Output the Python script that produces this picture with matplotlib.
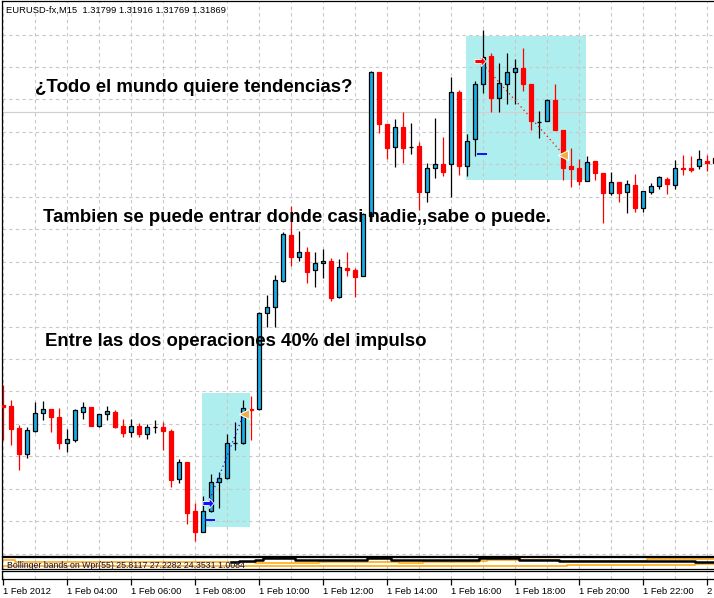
## EURUSD M15 chart with two marked trades
import numpy as np
import matplotlib
matplotlib.use('Agg')
import matplotlib.pyplot as plt
from matplotlib.patches import Rectangle

W, H, DPI = 714, 598, 100

# candles (price), one per 15 min bar
opens = [1.31108, 1.31105, 1.31037, 1.30958, 1.31029, 1.31084, 1.31096, 1.31071, 1.30990, 1.31000,
         1.31088, 1.31101, 1.31044, 1.31080, 1.31087, 1.31043, 1.31024, 1.31043, 1.31018, 1.31040,
         1.31041, 1.31028, 1.30879, 1.30933, 1.30782, 1.30718, 1.30782, 1.30871, 1.30882, 1.30992,
         1.30990, 1.31095, 1.31095, 1.31393, 1.31411, 1.31491, 1.31632, 1.31563, 1.31579, 1.31524,
         1.31545, 1.31552, 1.31440, 1.31530, 1.31524, 1.31506, 1.31691, 1.32134, 1.31973, 1.31904,
         1.31964, 1.31904, 1.31906, 1.31766, 1.31838, 1.31850, 1.31850, 1.32072, 1.31846, 1.31927,
         1.32097, 1.32185, 1.32055, 1.32097, 1.32134, 1.32146, 1.32098, 1.31981, 1.31984, 1.32048,
         1.31956, 1.31845, 1.31838, 1.31800, 1.31860, 1.31824, 1.31761, 1.31796, 1.31764, 1.31786,
         1.31714, 1.31766, 1.31783, 1.31804, 1.31786, 1.31839, 1.31839, 1.31845, 1.31860, 1.31853]
highs = [1.31170, 1.31124, 1.31047, 1.31041, 1.31117, 1.31121, 1.31096, 1.31098, 1.31033, 1.31095,
         1.31117, 1.31102, 1.31081, 1.31105, 1.31093, 1.31064, 1.31064, 1.31052, 1.31049, 1.31062,
         1.31057, 1.31033, 1.30942, 1.30933, 1.30805, 1.30828, 1.30895, 1.30903, 1.31019, 1.31055,
         1.31124, 1.31136, 1.31395, 1.31447, 1.31509, 1.31642, 1.31722, 1.31645, 1.31594, 1.31581,
         1.31589, 1.31560, 1.31557, 1.31579, 1.31530, 1.31700, 1.32137, 1.32136, 1.31973, 1.31990,
         1.32010, 1.31976, 1.31920, 1.31853, 1.31992, 1.31935, 1.32120, 1.32079, 1.31943, 1.32107,
         1.32264, 1.32192, 1.32163, 1.32194, 1.32174, 1.32209, 1.32098, 1.32014, 1.32050, 1.32097,
         1.31956, 1.31899, 1.31865, 1.31876, 1.31860, 1.31824, 1.31827, 1.31796, 1.31802, 1.31820,
         1.31768, 1.31792, 1.31814, 1.31810, 1.31863, 1.31879, 1.31876, 1.31894, 1.31879, 1.31880]
lows = [1.31000, 1.30985, 1.30908, 1.30946, 1.31026, 1.31062, 1.31026, 1.30973, 1.30964, 1.30995,
        1.31064, 1.31043, 1.31040, 1.31062, 1.31038, 1.31010, 1.31010, 1.31010, 1.31004, 1.31023,
        1.30970, 1.30854, 1.30869, 1.30741, 1.30690, 1.30716, 1.30779, 1.30792, 1.30879, 1.30970,
        1.30988, 1.31000, 1.31092, 1.31350, 1.31350, 1.31488, 1.31538, 1.31552, 1.31485, 1.31473,
        1.31500, 1.31430, 1.31438, 1.31507, 1.31440, 1.31506, 1.31688, 1.31946, 1.31865, 1.31843,
        1.31855, 1.31881, 1.31709, 1.31735, 1.31807, 1.31814, 1.31750, 1.31817, 1.31814, 1.31876,
        1.32071, 1.32012, 1.32012, 1.32035, 1.32035, 1.32077, 1.31956, 1.31930, 1.31983, 1.31956,
        1.31802, 1.31781, 1.31786, 1.31799, 1.31802, 1.31670, 1.31755, 1.31735, 1.31701, 1.31704,
        1.31704, 1.31758, 1.31773, 1.31758, 1.31773, 1.31817, 1.31827, 1.31834, 1.31830, 1.31845]
closes = [1.31102, 1.31034, 1.30957, 1.31030, 1.31083, 1.31096, 1.31072, 1.30990, 1.31002, 1.31092,
          1.31101, 1.31044, 1.31080, 1.31089, 1.31041, 1.31023, 1.31043, 1.31018, 1.31041, 1.31040,
          1.31029, 1.30877, 1.30933, 1.30776, 1.30718, 1.30782, 1.30870, 1.30883, 1.30990, 1.30992,
          1.31098, 1.31093, 1.31393, 1.31411, 1.31493, 1.31635, 1.31563, 1.31581, 1.31519, 1.31545,
          1.31552, 1.31439, 1.31533, 1.31524, 1.31504, 1.31697, 1.32135, 1.31973, 1.31901, 1.31964,
          1.31901, 1.31904, 1.31766, 1.31838, 1.31850, 1.31827, 1.32072, 1.31846, 1.31923, 1.32097,
          1.32180, 1.32055, 1.32102, 1.32134, 1.32146, 1.32097, 1.31984, 1.31981, 1.32048, 1.31956,
          1.31840, 1.31837, 1.31800, 1.31858, 1.31822, 1.31761, 1.31795, 1.31763, 1.31789, 1.31716,
          1.31768, 1.31783, 1.31810, 1.31788, 1.31838, 1.31836, 1.31833, 1.31865, 1.31853, 1.31869]

tick_labels = ['1 Feb 2012', '1 Feb 04:00', '1 Feb 06:00', '1 Feb 08:00', '1 Feb 10:00', '1 Feb 12:00',
               '1 Feb 14:00', '1 Feb 16:00', '1 Feb 18:00', '1 Feb 20:00', '1 Feb 22:00', '2 Feb 2012']

# boxes drawn on the chart: (bar start, bar end, price low, price high)
box_bar0 = [24.9, 57.9]
box_bar1 = [30.9, 72.9]
box_lo = [1.30733, 1.31802]
box_hi = [1.31146, 1.32245]

# trades: entry / exit (bar, price) and stop dash
entry_bar = [25.69, 59.66]
entry_price = [1.30805, 1.32169]
exit_bar = [30.14, 70.1]
exit_price = [1.31081, 1.31880]
stop_bar = [25.95, 59.97]
stop_price = [1.30754, 1.31882]
trade_color = ['#1010ff', '#ff0000']

hline_price = 1.32012

# sub window: Bollinger bands on WPR, step lines (start bar, value)
bb_up_start = [29, 30, 32, 33, 37, 46, 49, 60, 65, 70, 87]
bb_up_val = [58.3, 69.2, 77.5, 90, 76.7, 90, 76.7, 90, 76.7, 66.7, 62.5]
bb_mid_start = [0, 2, 12, 32, 40, 50, 53, 60, 61, 70, 81]
bb_mid_val = [75, 55.8, 60.8, 47.5, 55.8, 50, 62, 66.7, 75, 66.7, 80.8]
bb_lo_start = [0, 53, 71, 87]
bb_lo_val = [25, 26.7, 33.3, 41.7]

texts = ['¿Todo el mundo quiere tendencias?',
         'Tambien se puede entrar donde casi nadie,,sabe o puede.',
         'Entre las dos operaciones 40% del impulso']
text_xy = [(35, 88), (43, 218), (45, 342)]

bars = np.arange(len(opens))
opens, highs, lows, closes = map(np.array, (opens, highs, lows, closes))

fig = plt.figure(figsize=(W / DPI, H / DPI), dpi=DPI)
fig.patch.set_facecolor('white')


def px_axes(x0, y0, x1, y1):
    return fig.add_axes([x0 / W, 1 - y1 / H, (x1 - x0) / W, (y1 - y0) / H])


x_lim = ((1.5 - 2.7) / 8, (716 - 2.7) / 8)
grid_kw = dict(color='#c8c8c8', linestyle=(0, (3, 3)), linewidth=0.8)

ax = px_axes(1.5, 1, 716, 556)
axa = px_axes(1.5, 557, 716, 569)
axb = px_axes(1.5, 570.5, 716, 578.5)
for a in (ax, axa, axb):
    a.set_xlim(*x_lim)
    a.set_xticks(np.arange(0, 90, 4))
    a.set_axisbelow(True)
    a.grid(True, axis='x', **grid_kw)
    for s in a.spines.values():
        s.set_color('black')
        s.set_linewidth(0.9)
    a.tick_params(length=0, labelbottom=False, labelleft=False)

# main window
ax.set_ylim(1.306428, 1.323533)
ax.set_yticks(np.arange(1.3065, 1.32251, 0.001))
ax.grid(True, axis='y', **grid_kw)
ax.axhline(hline_price, color='#d0d0d0', lw=0.9, zorder=0.8)

for b0, b1, lo, hi in zip(box_bar0, box_bar1, box_lo, box_hi):
    ax.add_patch(Rectangle((b0, lo), b1 - b0, hi - lo, facecolor='#afeeee', edgecolor='none', zorder=0.3))

up = closes >= opens
ax.vlines(bars[up], lows[up], highs[up], color='black', lw=0.9, zorder=2)
ax.vlines(bars[~up], lows[~up], highs[~up], color='#ff0000', lw=0.9, zorder=2)
body_lo = np.minimum(opens, closes)
body_h = np.abs(closes - opens)
ax.bar(bars[up], body_h[up], 0.5, bottom=body_lo[up], facecolor='#18aee8', edgecolor='black', lw=0.9, zorder=3)
ax.bar(bars[~up], body_h[~up], 0.5, bottom=body_lo[~up], facecolor='#ff0000', edgecolor='#ff0000', lw=0.9, zorder=3)

arrow = [(-1, 0.35), (0.15, 0.35), (0.15, 0.9), (1, 0), (0.15, -0.9), (0.15, -0.35), (-1, -0.35), (-1, 0.35)]
for i in range(2):
    ax.plot([entry_bar[i], exit_bar[i]], [entry_price[i], exit_price[i]], color=trade_color[i],
            lw=0.9, linestyle=(0, (1, 2.5)), zorder=4)
    ax.plot(entry_bar[i], entry_price[i], marker=arrow, ms=8, mfc=trade_color[i], mec='white', mew=0.6, zorder=5)
    ax.plot(exit_bar[i], exit_price[i], marker='<', ms=6.5, mfc='#f0b040', mec='white', mew=0.8, zorder=5)
    ax.plot(stop_bar[i], stop_price[i], marker='_', ms=7, mec='#1010ff', mew=1.4, zorder=5)

fig.text(6 / W, 1 - 10 / H, 'EURUSD-fx,M15  1.31799 1.31916 1.31769 1.31869', fontsize=6.75,
         family='Liberation Sans', va='center', ha='left')
for t, (x, y) in zip(texts, text_xy):
    fig.text(x / W, 1 - y / H, t, fontsize=13.4, fontweight='bold', family='Liberation Sans',
             va='center', ha='left', color='black')

# indicator window
axa.set_ylim(0, 100)


def step_line(a, starts, vals, **kw):
    xs = list(starts) + [89.5]
    ys = list(vals) + [vals[-1]]
    a.step(np.array(xs) - 0.5, ys, where='post', **kw)


step_line(axa, bb_mid_start, bb_mid_val, color='#ffa500', lw=1.1, zorder=2)
step_line(axa, bb_lo_start, bb_lo_val, color='#ffa500', lw=1.1, zorder=2)
step_line(axa, bb_up_start, bb_up_val, color='black', lw=1.8, zorder=3)
axa.text(0.6, 32, 'Bollinger bands on Wpr(55) 25.8117 27.2282 24.3531 1.0084', fontsize=6.3,
         family='Liberation Sans', color='#101040', va='center', ha='left', clip_on=True, zorder=4)

# time axis
axb.set_xticks(np.arange(0, 90, 8), minor=False)
axb.set_xticks(np.arange(0, 90, 4), minor=True)
axb.grid(True, axis='x', which='minor', **grid_kw)
axb.set_xticklabels(tick_labels, fontsize=6.8, family='Liberation Sans', ha='left')
axb.tick_params(axis='x', which='major', length=4, width=0.9, direction='out', labelbottom=True, pad=2)
axb.tick_params(axis='x', which='minor', length=0)

fig.savefig('out.png', dpi=DPI)
